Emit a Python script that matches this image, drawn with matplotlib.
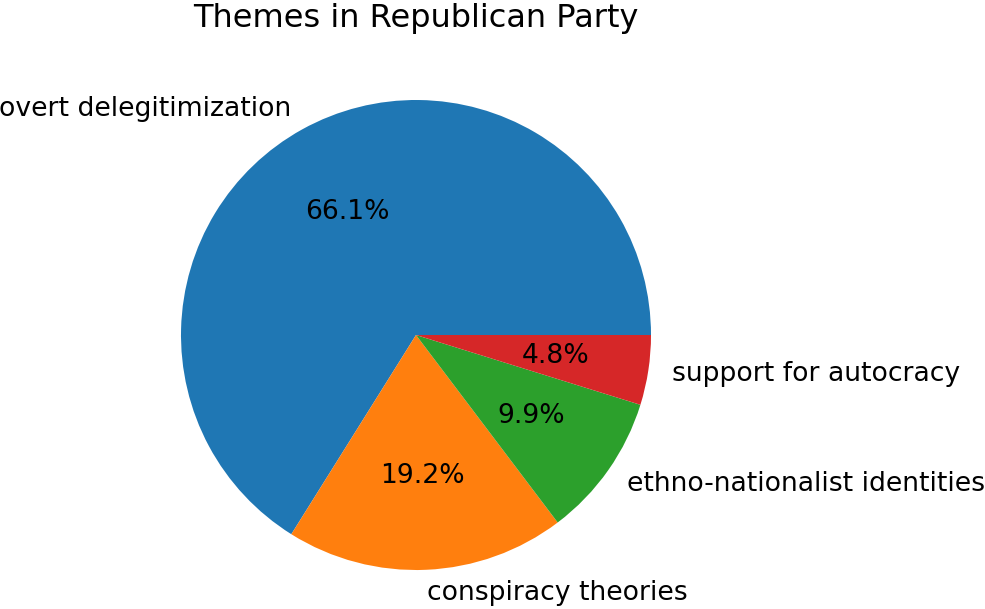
import matplotlib
matplotlib.use('Agg')
import matplotlib.pyplot as plt

labels = ['overt delegitimization', 'conspiracy theories',
          'ethno-nationalist identities', 'support for autocracy']
shares = [66.1, 19.2, 9.9, 4.8]

W, H = 985, 609
fig = plt.figure(figsize=(W / 100, H / 100), dpi=100)
# pie centre ~(416, 335) px, radius ~235 px
cx, cy, r = 416, 335, 235
half = 1.25 * r
ax = fig.add_axes([(cx - half) / W, (H - cy - half) / H, 2 * half / W, 2 * half / H])
ax.pie(shares, labels=labels, autopct='%1.1f%%',
       textprops={'fontsize': 19.2})
ax.set_xlim(-1.25, 1.25)
ax.set_ylim(-1.25, 1.25)
ax.set_aspect('equal')
fig.text(cx / W, 1 - 18 / H, 'Themes in Republican Party', fontsize=23,
         ha='center', va='center')

fig.savefig('out.png', dpi=100)
